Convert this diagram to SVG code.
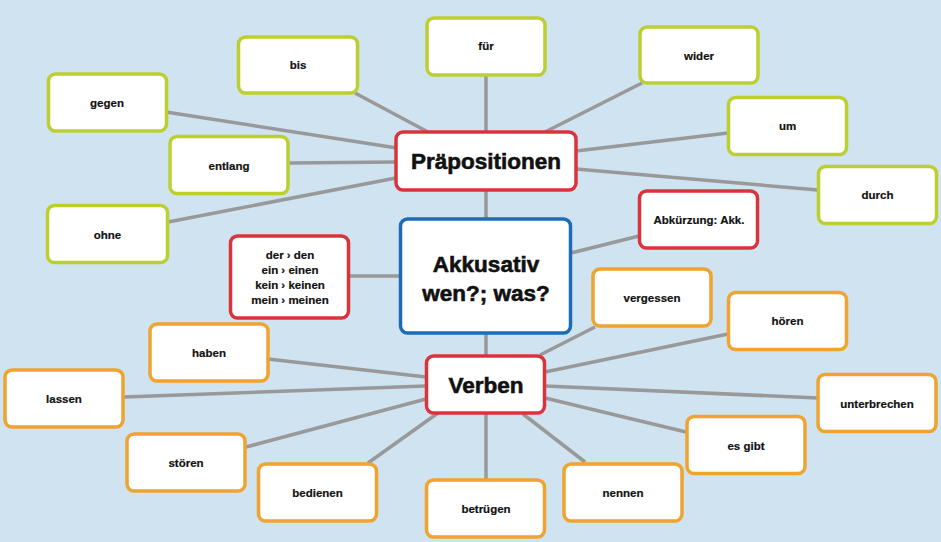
<svg xmlns="http://www.w3.org/2000/svg" width="941" height="542" viewBox="0 0 941 542">
<style>
.bg{fill:#cfe3f1}
.box{fill:#fff;stroke-width:3.5}
.g{stroke:#bccf2f}
.o{stroke:#f0a32f}
.r{stroke:#d9343c}
.b{stroke:#1b6db6}
.lines line{stroke:#999;stroke-width:3.5;stroke-linecap:butt}
text{font-family:"Liberation Sans",Arial,sans-serif;font-weight:bold;fill:#111;text-anchor:middle}
.s{font-size:11.5px;stroke:#111;stroke-width:0.2}
.l{font-size:22.5px;stroke:#111;stroke-width:0.6}
</style>
<rect class="bg" x="0" y="0" width="941" height="542"/>
<g id="connectors" class="lines">
<line x1="166" y1="112" x2="397" y2="148"/>
<line x1="355" y1="93" x2="428" y2="132"/>
<line x1="486" y1="75" x2="486" y2="132"/>
<line x1="642" y1="83" x2="545" y2="132"/>
<line x1="728" y1="133" x2="576" y2="151"/>
<line x1="576" y1="169" x2="818" y2="190"/>
<line x1="289" y1="163" x2="396" y2="162"/>
<line x1="168" y1="222" x2="396" y2="178"/>
<line x1="486" y1="190" x2="486" y2="218"/>
<line x1="349" y1="276" x2="400" y2="276"/>
<line x1="571" y1="253" x2="639" y2="236"/>
<line x1="486" y1="333" x2="486" y2="355"/>
<line x1="595" y1="327" x2="540" y2="355"/>
<line x1="728" y1="334" x2="545" y2="372"/>
<line x1="545" y1="386" x2="818" y2="398"/>
<line x1="545" y1="398" x2="686" y2="432"/>
<line x1="523" y1="414" x2="585" y2="462"/>
<line x1="486" y1="413" x2="486" y2="480"/>
<line x1="438" y1="413" x2="368" y2="463"/>
<line x1="246" y1="447" x2="426" y2="399"/>
<line x1="268" y1="359" x2="426" y2="377"/>
<line x1="124" y1="397" x2="426" y2="386"/>
</g>
<g id="praepositionen"><rect class="box r" x="396" y="132" width="180" height="58" rx="7"/><text class="l" x="486" y="169">Präpositionen</text></g>
<g id="akkusativ"><rect class="box b" x="400.5" y="219" width="170" height="114" rx="7"/><text class="l" x="486" y="272">Akkusativ</text><text class="l" x="486" y="301">wen?; was?</text></g>
<g id="verben"><rect class="box r" x="426.5" y="356" width="118" height="57" rx="7"/><text class="l" x="486" y="393">Verben</text></g>
<g id="artikel"><rect class="box r" x="230.5" y="236" width="118" height="82" rx="7"/>
<text class="s" x="290" y="259">der › den</text><text class="s" x="290" y="274">ein › einen</text><text class="s" x="290" y="289">kein › keinen</text><text class="s" x="290" y="304">mein › meinen</text></g>
<g id="abkuerzung"><rect class="box r" x="639.5" y="191" width="118" height="57" rx="7"/><text class="s" x="699" y="224">Abkürzung: Akk.</text></g>
<g id="gegen"><rect class="box g" x="48.5" y="74" width="118" height="57" rx="7"/><text class="s" x="107" y="107">gegen</text></g>
<g id="bis"><rect class="box g" x="238.5" y="37" width="119" height="56" rx="7"/><text class="s" x="298" y="69">bis</text></g>
<g id="fuer"><rect class="box g" x="427" y="18" width="118" height="57" rx="7"/><text class="s" x="486" y="50">für</text></g>
<g id="wider"><rect class="box g" x="640" y="27" width="118" height="56" rx="7"/><text class="s" x="699" y="60">wider</text></g>
<g id="um"><rect class="box g" x="728.5" y="97.5" width="118" height="57" rx="7"/><text class="s" x="787.5" y="130">um</text></g>
<g id="durch"><rect class="box g" x="818.5" y="166.5" width="118" height="57" rx="7"/><text class="s" x="877.5" y="199">durch</text></g>
<g id="entlang"><rect class="box g" x="170" y="136.5" width="118" height="57" rx="7"/><text class="s" x="229" y="170">entlang</text></g>
<g id="ohne"><rect class="box g" x="47.5" y="205.5" width="120" height="57" rx="7"/><text class="s" x="107.5" y="239">ohne</text></g>
<g id="vergessen"><rect class="box o" x="593" y="269" width="118" height="57" rx="7"/><text class="s" x="652" y="302">vergessen</text></g>
<g id="hoeren"><rect class="box o" x="728.5" y="292.5" width="118" height="57" rx="7"/><text class="s" x="787.5" y="325">hören</text></g>
<g id="unterbrechen"><rect class="box o" x="818" y="374.5" width="118" height="57" rx="7"/><text class="s" x="877" y="408">unterbrechen</text></g>
<g id="esgibt"><rect class="box o" x="687" y="416.5" width="118" height="57" rx="7"/><text class="s" x="746" y="450">es gibt</text></g>
<g id="nennen"><rect class="box o" x="564" y="464" width="118" height="57" rx="7"/><text class="s" x="623" y="497">nennen</text></g>
<g id="betruegen"><rect class="box o" x="426.5" y="480" width="118" height="57" rx="7"/><text class="s" x="486" y="513">betrügen</text></g>
<g id="bedienen"><rect class="box o" x="258.5" y="464" width="118" height="57" rx="7"/><text class="s" x="317.5" y="497">bedienen</text></g>
<g id="stoeren"><rect class="box o" x="127" y="434" width="118" height="57" rx="7"/><text class="s" x="186" y="467">stören</text></g>
<g id="lassen"><rect class="box o" x="5" y="370" width="118" height="57" rx="7"/><text class="s" x="64" y="403">lassen</text></g>
<g id="haben"><rect class="box o" x="150" y="324" width="118" height="57" rx="7"/><text class="s" x="209" y="357">haben</text></g>
</svg>
